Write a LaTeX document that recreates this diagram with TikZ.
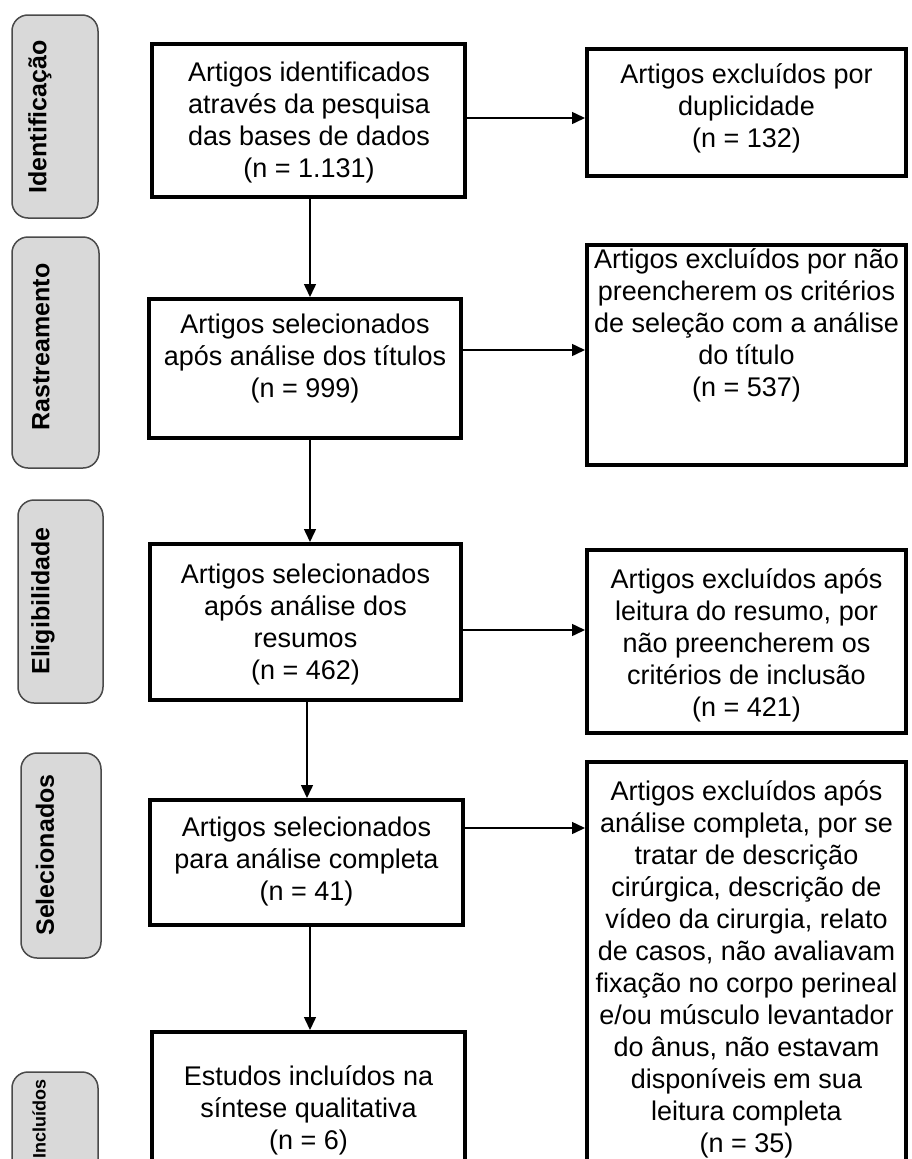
\documentclass[tikz,border=0pt]{standalone}
\usepackage{fontspec}
\setmainfont{Liberation Sans}
\usetikzlibrary{arrows.meta}
\definecolor{lblgray}{HTML}{D9D9D9}
\definecolor{lbledge}{HTML}{4A4A4A}
\begin{document}
\begin{tikzpicture}[x=1pt,y=-1pt,
  box/.style={draw=black,line width=4pt,inner sep=0pt},
  stage/.style={draw=lbledge,fill=lblgray,line width=1.5pt,rounded corners=16pt,inner sep=0pt},
  stagetxt/.style={rotate=90,font=\fontsize{25}{30}\selectfont\bfseries,inner sep=0pt},
  txt/.style={align=center,font=\fontsize{27}{32}\selectfont,inner sep=0pt},
  arr/.style={line width=1.5pt,-{Triangle[length=13pt,width=12pt]}}]
\useasboundingbox (0,0) rectangle (911,1159);
\clip (0,0) rectangle (911,1159);
% stage labels
\node[stage,minimum width=86pt,minimum height=203pt] (l1) at (55,116.5) {};
\node[stagetxt] (l1t) at (40,117) {Identificação};
\node[stage,minimum width=87pt,minimum height=231pt] (l2) at (55.5,352.5) {};
\node[stagetxt] (l2t) at (41,347) {Rastreamento};
\node[stage,minimum width=85pt,minimum height=203pt] (l3) at (60.5,601.5) {};
\node[stagetxt] (l3t) at (43,601) {Eligibilidade};
\node[stage,minimum width=80pt,minimum height=205pt] (l4) at (61,855.5) {};
\node[stagetxt] (l4t) at (45,855) {Selecionados};
\node[stage,minimum width=86pt,minimum height=220pt] (l5) at (55,1182) {};
\node[stagetxt,font=\fontsize{18}{22}\selectfont\bfseries] (l5t) at (39,1119) {Incluídos};
% main boxes
\node[box,minimum width=313pt,minimum height=153pt] (b1) at (308.5,120.5) {};
\node[txt] (b1t) at (309,122.5) {Artigos identificados\\através da pesquisa\\das bases de dados\\(n = 1.131)};
\node[box,minimum width=312pt,minimum height=139pt] (b2) at (305,368.5) {};
\node[txt] (b2t) at (305,358.5) {Artigos selecionados\\após análise dos títulos\\(n = 999)};
\node[box,minimum width=311pt,minimum height=156pt] (b3) at (305.5,622) {};
\node[txt] (b3t) at (305.5,625) {Artigos selecionados\\após análise dos\\resumos\\(n = 462)};
\node[box,minimum width=313pt,minimum height=125pt] (b4) at (306.5,862.5) {};
\node[txt] (b4t) at (306.5,862) {Artigos selecionados\\para análise completa\\(n = 41)};
\node[box,minimum width=313pt,minimum height=200pt] (b5) at (308.5,1132) {};
\node[txt] (b5t) at (308.5,1110) {Estudos incluídos na\\síntese qualitativa\\(n = 6)};
% right boxes
\node[box,minimum width=319pt,minimum height=127pt] (r1) at (746.5,112.5) {};
\node[txt] (r1t) at (746.5,108) {Artigos excluídos por\\duplicidade\\(n = 132)};
\node[box,minimum width=319pt,minimum height=220pt] (r2) at (746.5,355) {};
\node[txt] (r2t) at (746.5,325) {Artigos excluídos por não\\preencherem os critérios\\de seleção com a análise\\do título\\(n = 537)};
\node[box,minimum width=319pt,minimum height=183pt] (r3) at (746.5,641.5) {};
\node[txt] (r3t) at (746.5,645) {Artigos excluídos após\\leitura do resumo, por\\não preencherem os\\critérios de inclusão\\(n = 421)};
\node[box,minimum width=319pt,minimum height=440pt] (r4) at (746.5,982) {};
\node[txt] (r4t) at (746.5,969) {Artigos excluídos após\\análise completa, por se\\tratar de descrição\\cirúrgica, descrição de\\vídeo da cirurgia, relato\\de casos, não avaliavam\\fixação no corpo perineal\\e/ou músculo levantador\\do ânus, não estavam\\disponíveis em sua\\leitura completa\\(n = 35)};
% vertical arrows
\draw[arr] (310,0 |- b1.south) -- (310,0 |- b2.north);
\draw[arr] (310,0 |- b2.south) -- (310,0 |- b3.north);
\draw[arr] (307,0 |- b3.south) -- (307,0 |- b4.north);
\draw[arr] (310,0 |- b4.south) -- (310,0 |- b5.north);
% horizontal arrows
\draw[arr] (b1.east |- 0,118) -- (r1.west |- 0,118);
\draw[arr] (b2.east |- 0,350) -- (r2.west |- 0,350);
\draw[arr] (b3.east |- 0,630) -- (r3.west |- 0,630);
\draw[arr] (b4.east |- 0,828) -- (r4.west |- 0,828);
\end{tikzpicture}
\end{document}
